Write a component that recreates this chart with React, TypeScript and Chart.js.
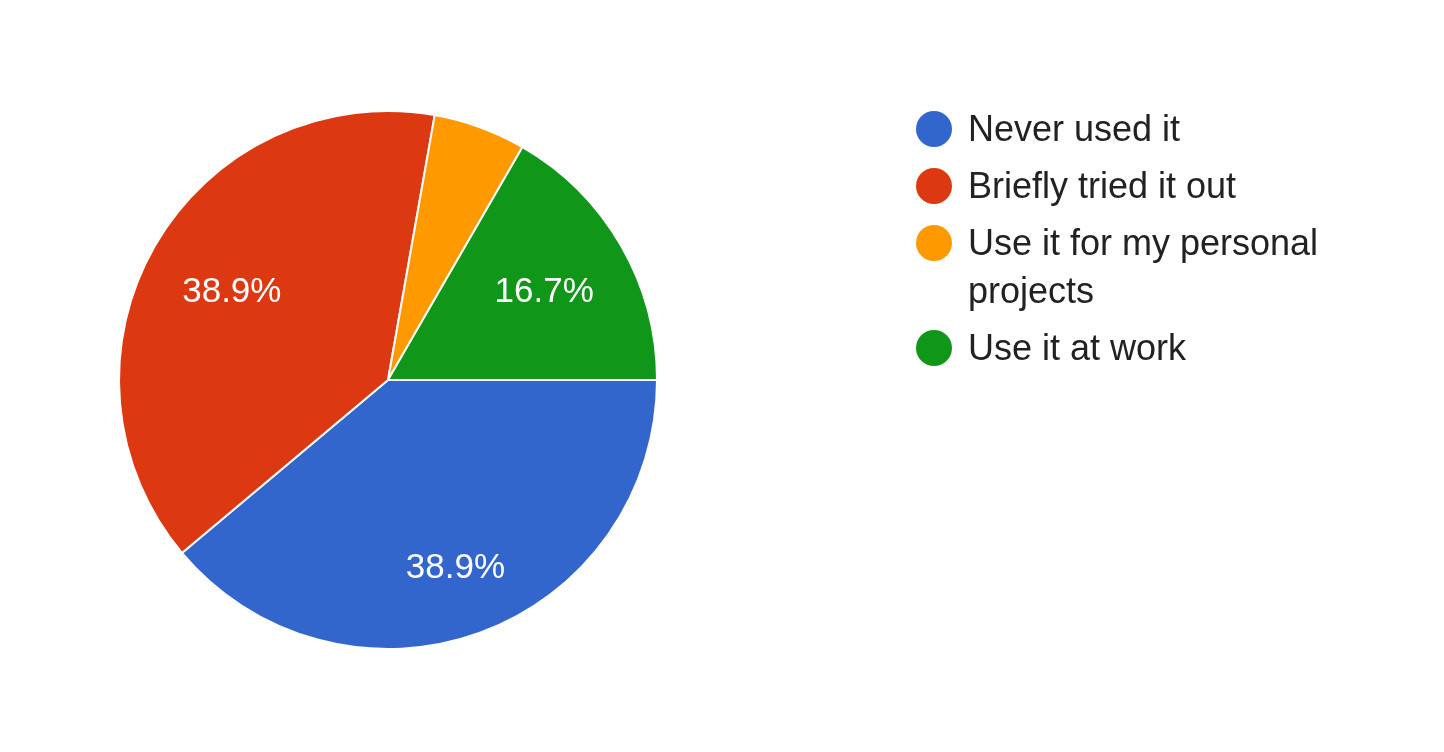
import React, { useEffect, useRef } from "react";
import { Chart, registerables } from "chart.js";

Chart.register(...registerables);

const categories = ["Never used it", "Briefly tried it out", "Use it for my personal projects", "Use it at work"];
const responses = [7, 7, 1, 3];
const colors = ["#3366CC", "#DC3912", "#FF9900", "#109618"];

const FONT = "'Liberation Sans', Arial, sans-serif";

const sliceLabels = {
  id: "sliceLabels",
  afterDatasetsDraw(chart: any) {
    const ctx = chart.ctx;
    const meta = chart.getDatasetMeta(0);
    const data = chart.data.datasets[0].data as number[];
    const total = data.reduce((a: number, b: number) => a + b, 0);
    ctx.save();
    ctx.font = `35px ${FONT}`;
    ctx.fillStyle = "#ffffff";
    ctx.textAlign = "center";
    ctx.textBaseline = "alphabetic";
    meta.data.forEach((arc: any, i: number) => {
      const pct = (data[i] / total) * 100;
      if (pct < 10) return;
      const { x, y, startAngle, endAngle, outerRadius } = arc.getProps(
        ["x", "y", "startAngle", "endAngle", "outerRadius"],
        true
      );
      const text = pct.toFixed(1) + "%";
      const w = ctx.measureText(text).width;
      const h = 35 * 0.716;
      const mid = (startAngle + endAngle) / 2;
      const c = Math.cos(mid);
      const s = Math.sin(mid);
      const R = outerRadius * 0.855;
      const b = Math.abs(c) * w / 2 + Math.abs(s) * h / 2;
      const d = -b + Math.sqrt(b * b - (w * w + h * h) / 4 + R * R);
      const cx = x + c * d;
      const cy = y + s * d;
      ctx.fillText(text, cx, cy + h / 2);
    });
    ctx.restore();
  },
};

export default function App() {
  const ref = useRef<HTMLCanvasElement | null>(null);
  useEffect(() => {
    if (!ref.current) return;
    const chart = new Chart(ref.current, {
      type: "pie",
      data: {
        labels: categories,
        datasets: [
          {
            data: responses,
            backgroundColor: colors,
            borderColor: "#ffffff",
            borderWidth: 2,
            radius: 269,
          } as any,
        ],
      },
      options: {
        responsive: false,
        animation: false,
        rotation: 90,
        layout: { padding: { left: 119, right: 787, top: 111, bottom: 103 } },
        plugins: {
          legend: { display: false },
          tooltip: { enabled: false },
        },
      },
      plugins: [sliceLabels],
    });
    return () => chart.destroy();
  }, []);

  return (
    <div style={{ position: "absolute", left: 0, top: 0, width: 1444, height: 752, background: "#fff" }}>
      <canvas ref={ref} width={1444} height={752} style={{ position: "absolute", left: 0, top: 0 }} />
      <div
        style={{
          position: "absolute",
          left: 916,
          top: 104.5,
          fontFamily: FONT,
          fontSize: 36,
          lineHeight: "48px",
          color: "#222222",
        }}
      >
        {categories.map((c, i) => (
          <div key={c} style={{ display: "flex", alignItems: "flex-start", marginBottom: 9 }}>
            <div
              style={{
                width: 36,
                height: 36,
                borderRadius: "50%",
                background: colors[i],
                marginTop: 6,
                flex: "0 0 auto",
              }}
            />
            <div style={{ marginLeft: 16, width: 380 }}>{c}</div>
          </div>
        ))}
      </div>
    </div>
  );
}
